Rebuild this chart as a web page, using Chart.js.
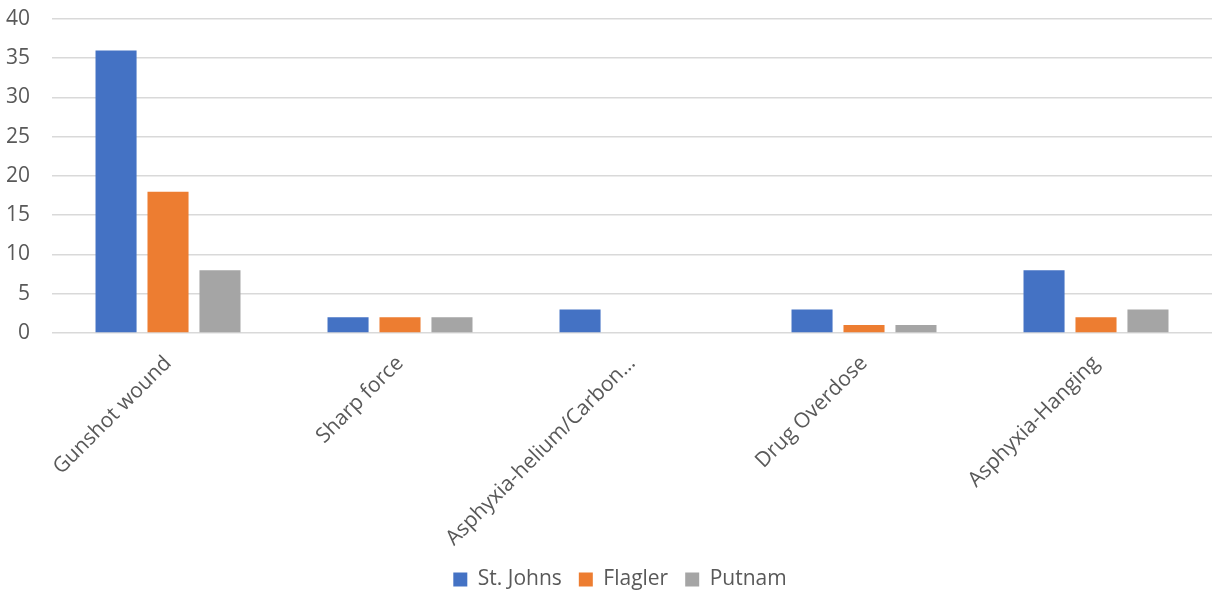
<!DOCTYPE html>
<html>
<head>
<meta charset="utf-8">
<script src="https://cdn.jsdelivr.net/npm/chart.js@4"></script>
<style>
  body { margin: 0; background: #fff; }
  #wrap { width: 1214px; height: 592px; overflow: hidden; }
</style>
</head>
<body>
<div id="wrap"><canvas id="chart" width="1214" height="600"></canvas></div>
<script>
'use strict';

// categories and series
let causes = ['Gunshot wound', 'Sharp force', 'Asphyxia-helium/Carbon…', 'Drug Overdose', 'Asphyxia-Hanging'];
let stJohns = [36, 2, 3, 3, 8];
let flagler = [18, 2, 0, 1, 2];
let putnam = [8, 2, 0, 1, 3];
let yTicks = [0, 5, 10, 15, 20, 25, 30, 35, 40];

let textColor = '#595959';
let fontFamily = '"Open Sans", sans-serif';

let ctx = document.getElementById('chart').getContext('2d');

// nudge the legend a little to the right, like the original
let legendShift = {
  id: 'legendShift',
  afterUpdate(chart) {
    chart.legend.left += 22;
    chart.legend.right += 22;
    chart.legend.adjustHitBoxes();
  }
};

let chartObject = {
  type: 'bar',
  data: {
    labels: causes,
    datasets: [{
      label: 'St. Johns',
      data: stJohns,
      backgroundColor: '#4472C4'
    }, {
      label: 'Flagler',
      data: flagler,
      backgroundColor: '#ED7D31'
    }, {
      label: 'Putnam',
      data: putnam,
      backgroundColor: '#A5A5A5'
    }]
  },
  options: {
    responsive: false,
    animation: false,
    categoryPercentage: 0.672,
    barPercentage: 0.79,
    layout: {
      padding: { top: 19, right: 2, left: -16, bottom: 0 }
    },
    plugins: {
      legend: {
        position: 'bottom',
        labels: {
          color: textColor,
          font: { size: 21, family: fontFamily },
          boxWidth: 14,
          boxHeight: 14,
          padding: 17
        }
      },
      tooltip: { enabled: false }
    },
    scales: {
      x: {
        grid: { display: false },
        border: { display: false },
        afterFit: function(axis) {
          axis.height = axis.height - 9;
        },
        ticks: {
          color: textColor,
          font: { size: 21, family: fontFamily },
          maxRotation: 45,
          minRotation: 45,
          padding: 10
        }
      },
      y: {
        min: 0,
        max: 40,
        afterBuildTicks: function(axis) {
          axis.ticks = yTicks.map(v => ({ value: v }));
        },
        afterFit: function(axis) {
          axis.paddingTop = 0;
        },
        grid: { color: '#d9d9d9', lineWidth: 1.5, drawTicks: false },
        border: { display: false },
        ticks: {
          color: textColor,
          font: { size: 21, family: fontFamily },
          padding: 22
        }
      }
    }
  },
  plugins: [legendShift]
};

const myChart = new Chart(ctx, chartObject);
</script>
</body>
</html>
